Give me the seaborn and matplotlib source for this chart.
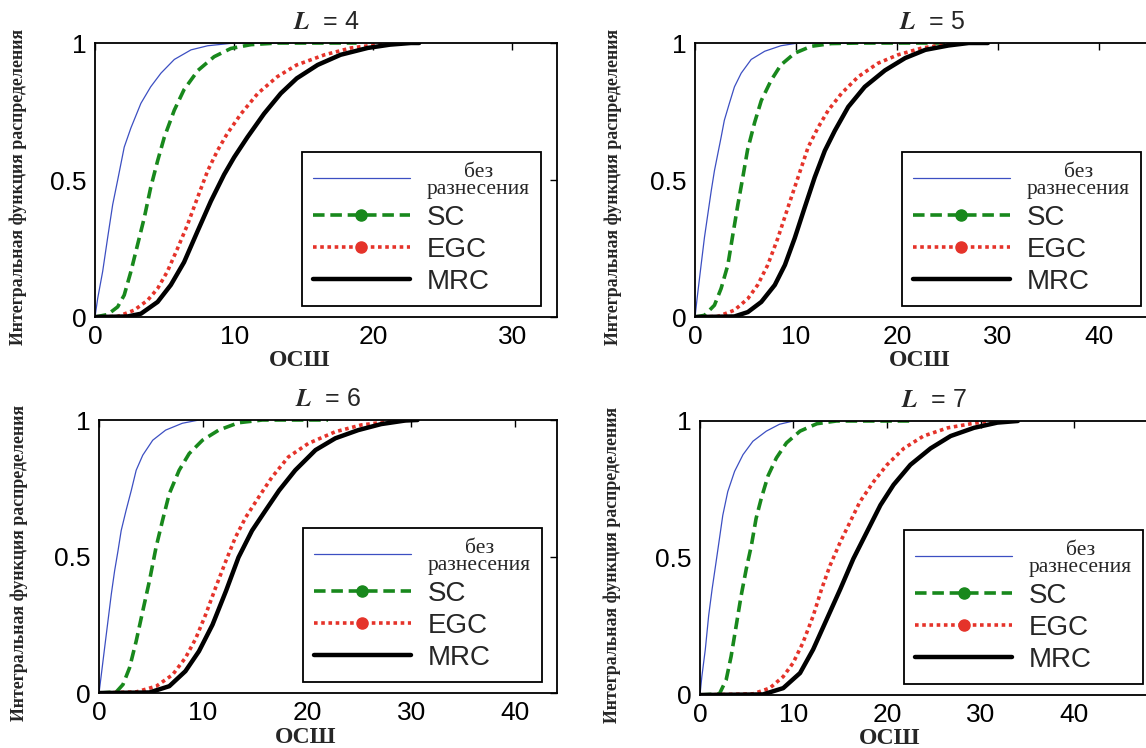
import seaborn as sns
import matplotlib.pyplot as plt
from matplotlib.lines import Line2D

# (ОСШ, CDF) points
L4_NONE = [(0, 0), (0.19, 0.067), (0.55, 0.166), (0.91, 0.29), (1.27, 0.41), (1.63, 0.50), (2.1, 0.62),
           (2.58, 0.69), (3.3, 0.78), (4.0, 0.84), (4.74, 0.89), (5.7, 0.94), (6.9, 0.975), (8.1, 0.99),
           (10.0, 1.0), (14.0, 1.0)]
L4_SC = [(0, 0), (0.91, 0.009), (1.63, 0.037), (2.1, 0.08), (2.58, 0.166), (3.06, 0.264), (3.54, 0.362),
         (4.0, 0.472), (4.5, 0.57), (4.98, 0.656), (5.7, 0.755), (6.4, 0.83), (7.4, 0.90), (8.56, 0.95),
         (9.76, 0.98), (11.2, 0.994), (13.1, 1.0), (18.8, 1.0)]
L4_EGC = [(0, 0), (1.63, 0.002), (2.82, 0.025), (3.78, 0.061), (4.5, 0.104), (5.2, 0.166), (5.93, 0.25),
          (6.65, 0.337), (7.37, 0.436), (8.1, 0.534), (8.8, 0.607), (9.5, 0.669), (10.5, 0.742),
          (11.7, 0.816), (13.1, 0.877), (14.5, 0.92), (16.5, 0.957), (18.4, 0.982), (20.3, 0.994),
          (21.7, 1.0)]
L4_MRC = [(0, 0), (2.34, 0.002), (3.3, 0.012), (4.5, 0.055), (5.45, 0.117), (6.4, 0.20), (7.37, 0.313),
          (8.33, 0.423), (9.28, 0.52), (10.0, 0.583), (10.95, 0.656), (12.15, 0.742), (13.35, 0.816),
          (14.5, 0.871), (16.0, 0.92), (17.65, 0.957), (19.6, 0.982), (21.2, 0.994), (22.7, 1.0),
          (23.3, 1.0)]

L5_NONE = [(0, 0), (0.2, 0.067), (0.6, 0.19), (0.93, 0.29), (1.26, 0.374), (1.6, 0.46), (1.92, 0.534),
           (2.25, 0.595), (2.58, 0.656), (2.9, 0.718), (3.4, 0.78), (3.9, 0.84), (4.57, 0.89),
           (5.56, 0.94), (6.9, 0.97), (8.5, 0.99), (10.2, 1.0), (16.0, 1.0)]
L5_SC = [(0, 0), (0.93, 0.006), (1.92, 0.043), (2.58, 0.104), (3.25, 0.19), (3.74, 0.30), (4.24, 0.41),
         (4.73, 0.51), (5.2, 0.61), (5.9, 0.71), (6.56, 0.79), (7.55, 0.865), (8.5, 0.92), (9.87, 0.963),
         (11.5, 0.988), (13.5, 0.998), (16.2, 1.0), (25.0, 1.0)]
L5_EGC = [(0, 0), (2.25, 0.002), (3.9, 0.025), (5.23, 0.067), (6.2, 0.117), (7.2, 0.19), (8.2, 0.288),
          (9.2, 0.40), (10.2, 0.51), (11.2, 0.62), (12.2, 0.693), (13.2, 0.755), (14.5, 0.816),
          (16.16, 0.877), (18.1, 0.926), (20.1, 0.957), (22.5, 0.982), (24.8, 0.994), (26.8, 1.0),
          (28.3, 1.0)]
L5_MRC = [(0, 0), (3.9, 0.002), (5.23, 0.018), (6.56, 0.055), (7.9, 0.117), (8.9, 0.19), (9.87, 0.288),
          (10.86, 0.40), (11.85, 0.51), (12.85, 0.607), (13.84, 0.68), (15.17, 0.767), (16.8, 0.84),
          (18.8, 0.90), (20.8, 0.945), (22.8, 0.975), (25.1, 0.991), (27.1, 1.0), (29.0, 1.0)]

L6_NONE = [(0, 0), (0.22, 0.067), (0.54, 0.166), (0.86, 0.264), (1.18, 0.362), (1.5, 0.448), (1.82, 0.52),
           (2.13, 0.595), (2.6, 0.669), (3.1, 0.742), (3.57, 0.816), (4.2, 0.871), (5.16, 0.926),
           (6.4, 0.963), (8.0, 0.988), (9.6, 1.0), (14.0, 1.0)]
L6_SC = [(0, 0), (1.66, 0.004), (2.3, 0.031), (2.93, 0.092), (3.57, 0.19), (4.2, 0.30), (4.84, 0.41),
         (5.48, 0.534), (6.1, 0.632), (6.75, 0.73), (7.7, 0.816), (8.66, 0.877), (9.94, 0.926),
         (11.5, 0.963), (13.4, 0.99), (15.7, 1.0), (22.0, 1.0)]
L6_EGC = [(0, 0), (3.57, 0.004), (5.5, 0.025), (7.07, 0.067), (8.3, 0.129), (9.3, 0.20), (10.25, 0.288),
          (11.2, 0.386), (12.2, 0.485), (13.1, 0.57), (14.1, 0.644), (15.35, 0.718), (16.6, 0.79),
          (18.2, 0.865), (20.1, 0.914), (22.7, 0.957), (25.2, 0.982), (27.8, 0.994), (30.0, 1.0)]
L6_MRC = [(0, 0), (4.84, 0.002), (6.75, 0.025), (8.3, 0.08), (9.6, 0.153), (10.9, 0.25), (12.2, 0.374),
          (13.4, 0.497), (14.7, 0.595), (16.0, 0.669), (17.3, 0.742), (18.85, 0.816), (20.8, 0.89),
          (22.7, 0.933), (24.9, 0.963), (27.1, 0.985), (29.4, 0.998), (30.6, 1.0)]

L7_NONE = [(0, 0), (0.2, 0.067), (0.57, 0.166), (0.93, 0.29), (1.3, 0.387), (1.72, 0.485), (2.08, 0.57),
           (2.44, 0.656), (2.97, 0.742), (3.7, 0.816), (4.6, 0.877), (5.66, 0.926), (7.1, 0.963),
           (8.5, 0.988), (10.0, 1.0), (14.0, 1.0)]
L7_SC = [(0, 0), (2.08, 0.004), (2.8, 0.055), (3.33, 0.141), (3.87, 0.252), (4.4, 0.362), (4.95, 0.46),
         (5.5, 0.546), (6.0, 0.644), (6.56, 0.718), (7.28, 0.80), (8.17, 0.865), (9.25, 0.92),
         (10.7, 0.963), (12.5, 0.99), (14.6, 1.0), (22.9, 1.0)]
L7_EGC = [(0, 0), (5.66, 0.004), (7.46, 0.025), (8.9, 0.067), (9.96, 0.117), (11.0, 0.19), (12.1, 0.288),
          (13.0, 0.386), (13.9, 0.472), (15.0, 0.558), (16.06, 0.632), (17.1, 0.705), (18.6, 0.78),
          (20.0, 0.84), (21.8, 0.90), (23.9, 0.945), (26.5, 0.975), (29.0, 0.99), (31.1, 1.0),
          (31.9, 1.0)]
L7_MRC = [(0, 0), (6.74, 0.002), (8.9, 0.025), (10.7, 0.08), (12.1, 0.166), (13.55, 0.276), (15.0, 0.386),
          (16.4, 0.497), (17.85, 0.595), (19.3, 0.693), (20.7, 0.767), (22.5, 0.84), (24.66, 0.90),
          (26.8, 0.945), (29.3, 0.975), (31.8, 0.994), (34.0, 1.0)]

LEGEND_LABELS = ['без\nразнесения', 'SC', 'EGC', 'MRC']
YLABEL = 'Интегральная функция распределения'
XLABEL = 'ОСШ'

sns.set_theme(style='white')
plt.rcParams['font.family'] = ['Liberation Sans', 'DejaVu Sans']
plt.rcParams['mathtext.fontset'] = 'stix'

styles = [
    dict(color='#3c4fc2', lw=0.9, ls='-'),
    dict(color='#18881c', lw=2.6, ls=(0, (3.2, 1.6))),
    dict(color='#e5332a', lw=2.6, ls=(0, (1.0, 1.0))),
    dict(color='black', lw=3.2, ls='-'),
]

panels = [
    # L, curves, [left, bottom, width, height], xmax, ylabel x, xlabel x, xlabel y, legend right
    (4, [L4_NONE, L4_SC, L4_EGC, L4_MRC], [0.0829, 0.5762, 0.4031, 0.3663], 33.2, -0.147, 0.444, -0.12, 0.965),
    (5, [L5_NONE, L5_SC, L5_EGC, L5_MRC], [0.6065, 0.5762, 0.4142, 0.3663], 47, -0.154, 0.474, -0.12, 0.939),
    (6, [L6_NONE, L6_SC, L6_EGC, L6_MRC], [0.0864, 0.0735, 0.3997, 0.3650], 44, -0.155, 0.45, -0.125, 0.967),
    (7, [L7_NONE, L7_SC, L7_EGC, L7_MRC], [0.6108, 0.0709, 0.4080, 0.3663], 50, -0.169, 0.406, -0.12, 0.948),
]

fig = plt.figure(figsize=(11.46, 7.48), dpi=100)

for L, curves, rect, xmax, ylab_x, xlab_x, xlab_y, leg_x in panels:
    ax = fig.add_axes(rect)
    for pts, st in zip(curves, styles):
        xs = [p[0] for p in pts]
        ys = [p[1] for p in pts]
        sns.lineplot(x=xs, y=ys, ax=ax, color=st['color'], linewidth=st['lw'],
                     linestyle=st['ls'], sort=False, estimator=None, legend=False)
    ax.set_xlim(0, xmax)
    ax.set_ylim(0, 1)
    ax.set_xticks([t for t in [0, 10, 20, 30, 40] if t <= xmax])
    ax.set_yticks([0, 0.5, 1])
    ax.set_yticklabels(['0', '0.5', '1'])
    ax.tick_params(direction='in', length=5, width=1.0, top=True, right=True,
                   labelsize=19, pad=6, colors='black')
    for s in ax.spines.values():
        s.set_color('black')
        s.set_linewidth(1.3)

    ax.set_title(r'$\mathbfit{L}$  = %d' % L, fontsize=18, pad=10)
    ax.set_ylabel(YLABEL, family='Liberation Serif', weight='bold', fontsize=12.8)
    ax.yaxis.set_label_coords(ylab_x, 0.475)
    ax.set_xlabel(XLABEL, family='Liberation Serif', weight='bold', fontsize=17)
    ax.xaxis.set_label_coords(xlab_x, xlab_y)

    handles = [
        Line2D([], [], **styles[0]),
        Line2D([], [], marker='o', markersize=8, **styles[1]),
        Line2D([], [], marker='o', markersize=8, **styles[2]),
        Line2D([], [], **styles[3]),
    ]
    leg = ax.legend(handles, LEGEND_LABELS, loc='lower right', bbox_to_anchor=(leg_x, 0.04),
                    borderaxespad=0, frameon=True, fancybox=False, edgecolor='black', framealpha=1,
                    handlelength=3.5, fontsize=20, labelspacing=0.22, borderpad=0.4,
                    handletextpad=0.6, numpoints=1)
    leg.get_frame().set_linewidth(1.3)
    first = leg.get_texts()[0]
    first.set_family('Liberation Serif')
    first.set_fontsize(15.5)
    first.set_multialignment('center')
    first.set_linespacing(0.8)

fig.savefig('out.png', dpi=100)
